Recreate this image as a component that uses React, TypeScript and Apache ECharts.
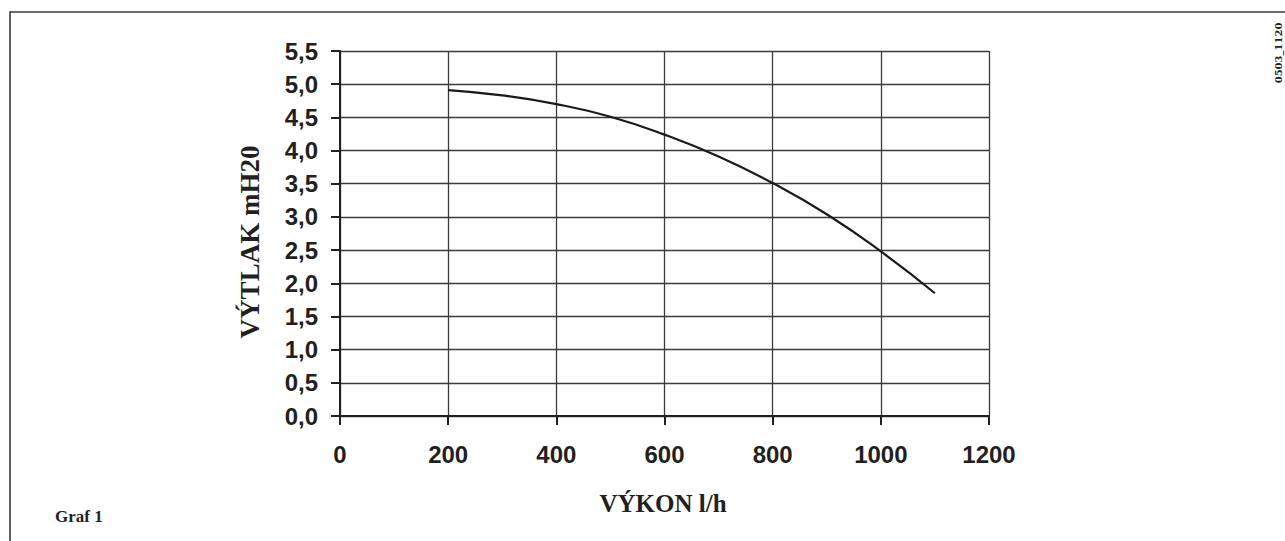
import React, { useEffect, useRef } from "react";
import * as echarts from "echarts";

const flowValues = [200, 300, 400, 500, 600, 700, 800, 900, 1000, 1100];
const headValues = [4.91, 4.83, 4.7, 4.51, 4.24, 3.91, 3.51, 3.04, 2.48, 1.85];
const xTitle = "VÝKON l/h";
const yTitle = "VÝTLAK mH20";
const captionText = "Graf 1";
const codeText = "0503_1120";

export default function App() {
  const ref = useRef<HTMLDivElement>(null);
  useEffect(() => {
    if (!ref.current) return;
    const chart = echarts.init(ref.current, undefined, { renderer: "svg" });
    const data = flowValues.map((x, i) => [x, headValues[i]]);
    const labelStyle = {
      fontFamily: "Liberation Sans, Arial, sans-serif",
      fontWeight: "bold" as const,
      fontSize: 24,
      color: "#231f20",
    };
    chart.setOption({
      animation: false,
      backgroundColor: "#ffffff",
      grid: { left: 340, top: 51, width: 649, height: 365, containLabel: false },
      xAxis: {
        type: "value",
        min: 0,
        max: 1200,
        interval: 200,
        axisLine: { show: true, onZero: false, lineStyle: { color: "#231f20", width: 2 } },
        axisTick: { show: true, length: 9, lineStyle: { color: "#231f20", width: 2 } },
        axisLabel: { ...labelStyle, margin: 26, formatter: (v: number) => String(v) },
        splitLine: { show: true, lineStyle: { color: "#3a3a3a", width: 1.3 } },
      },
      yAxis: {
        type: "value",
        min: 0,
        max: 5.5,
        interval: 0.5,
        axisLine: { show: true, onZero: false, lineStyle: { color: "#231f20", width: 2 } },
        axisTick: { show: true, length: 9, lineStyle: { color: "#231f20", width: 2 } },
        axisLabel: {
          ...labelStyle,
          margin: 22,
          formatter: (v: number) => v.toFixed(1).replace(".", ","),
        },
        splitLine: { show: true, lineStyle: { color: "#3a3a3a", width: 1.3 } },
      },
      series: [
        {
          type: "line",
          data,
          smooth: 0.5,
          showSymbol: false,
          symbol: "none",
          lineStyle: { color: "#1a1a1a", width: 2.2 },
        },
      ],
      graphic: [
        {
          type: "polyline",
          shape: { points: [[10, 541], [10, 12], [1285, 12]] },
          style: { stroke: "#3a3a3a", lineWidth: 1.6, fill: "none" },
        },
        {
          type: "text",
          x: 663,
          y: 503,
          style: {
            text: xTitle,
            font: "bold 25px 'Liberation Serif', 'Times New Roman', serif",
            fill: "#231f20",
            align: "center",
            verticalAlign: "middle",
          },
        },
        {
          type: "text",
          x: 250,
          y: 242,
          rotation: Math.PI / 2,
          style: {
            text: yTitle,
            font: "bold 27px 'Liberation Serif', 'Times New Roman', serif",
            fill: "#231f20",
            align: "center",
            verticalAlign: "middle",
          },
        },
        {
          type: "text",
          x: 55,
          y: 516,
          style: {
            text: captionText,
            font: "bold 17px 'Liberation Serif', 'Times New Roman', serif",
            fill: "#231f20",
            align: "left",
            verticalAlign: "middle",
          },
        },
        {
          type: "text",
          x: 1278,
          y: 53,
          rotation: Math.PI / 2,
          style: {
            text: codeText,
            font: "bold 10px 'DejaVu Serif', serif",
            fill: "#231f20",
            align: "center",
            verticalAlign: "middle",
          },
        },
      ],
    });
    return () => chart.dispose();
  }, []);
  return (
    <div
      ref={ref}
      style={{ position: "absolute", left: 0, top: 0, width: 1285, height: 541 }}
    />
  );
}
